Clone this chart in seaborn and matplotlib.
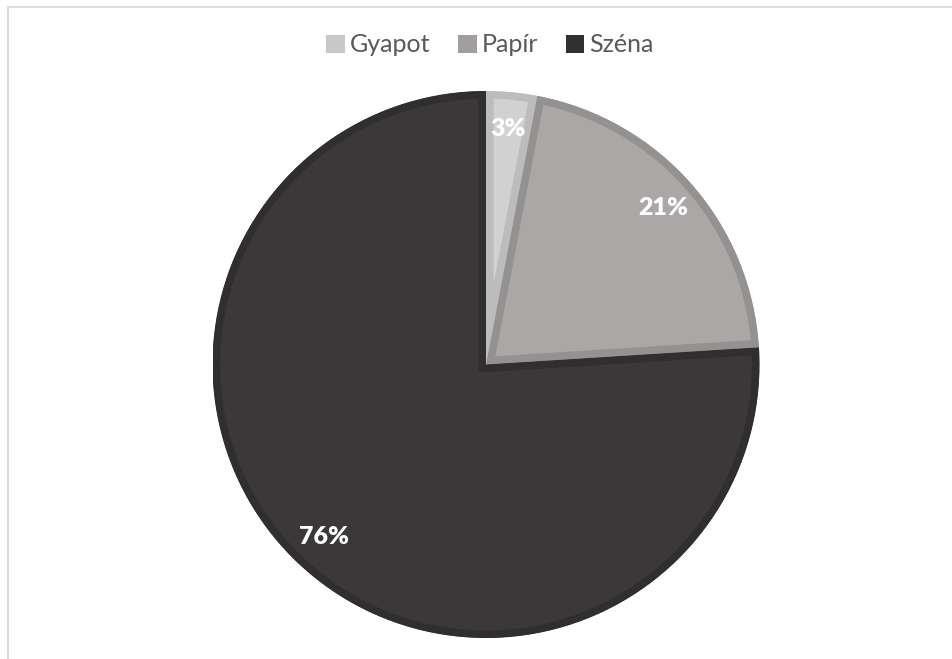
import matplotlib
matplotlib.use("Agg")
import matplotlib.pyplot as plt
from matplotlib.patches import Patch, Rectangle
import seaborn as sns

# data
labels = ["Gyapot", "Papír", "Széna"]
shares = [3, 21, 76]
fill_colors = ["#d2d1d1", "#aaa7a6", "#3a3839"]
edge_colors = ["#bdbcbc", "#949191", "#302e2f"]
legend_colors = ["#c9c8c8", "#a19e9d", "#323031"]

sns.set_theme(style="white")
plt.rcParams["font.family"] = ["Lato", "DejaVu Sans"]

fig = plt.figure(figsize=(9.52, 6.59), dpi=100)
ax = fig.add_axes([212.5 / 952, 21 / 659, 547 / 952, 547 / 659])

wedges, _, autotexts = ax.pie(
    shares, colors=fill_colors, startangle=90, counterclock=False,
    autopct="%1.0f%%", pctdistance=0.865, radius=1.0,
    wedgeprops=dict(linewidth=0))

ax.set_xlim(-1, 1)
ax.set_ylim(-1, 1)
ax.set_aspect("equal")
ax.axis("off")

# inner border like the office style: thick edge clipped to the wedge itself
for w, ec in zip(wedges, edge_colors):
    w.set_edgecolor(ec)
    w.set_linewidth(11)
    w.set_clip_on(True)
    w.set_clip_path(w)

for t in autotexts:
    t.set_color("white")
    t.set_fontweight("heavy")
    t.set_fontsize(18)

handles = [Patch(facecolor=c, edgecolor="none") for c in legend_colors]
fig.legend(handles, labels, loc="center", bbox_to_anchor=(490 / 952, 1 - 45 / 659),
           ncol=3, frameon=False, fontsize=18, handlelength=0.75, handleheight=0.75,
           handletextpad=0.2, columnspacing=1.1, labelcolor="#595959")

# chart area border
fig.add_artist(Rectangle((8 / 952, -0.1), 1.0, (659 - 7) / 659 + 0.1, fill=False,
                         edgecolor="#dcdcdc", linewidth=1.5, transform=fig.transFigure))

fig.savefig("out.png", dpi=100)
